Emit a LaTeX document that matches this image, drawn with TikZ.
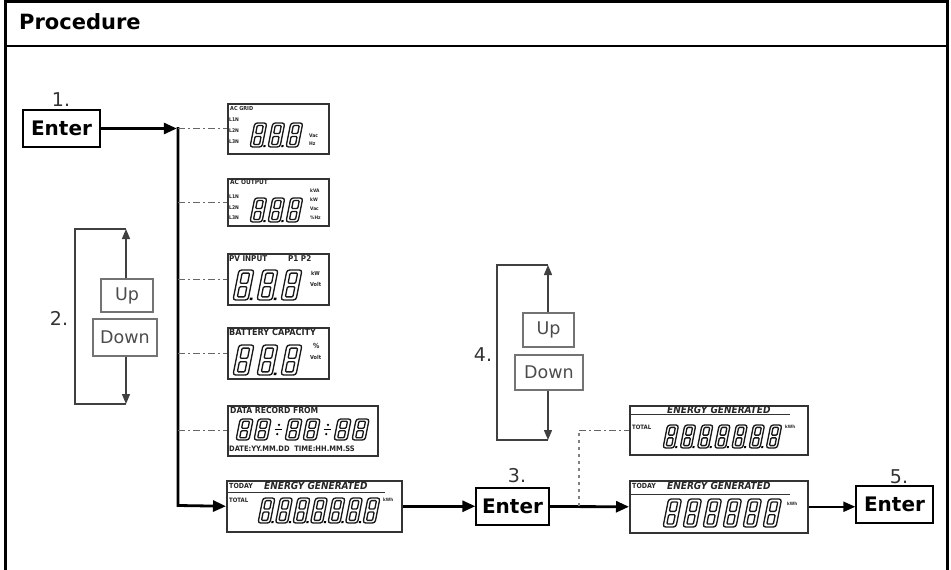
\documentclass[tikz,border=0pt]{standalone}
\usepackage{fontspec}
\setmainfont{DejaVu Sans}
\newfontfamily\lcd{DejaVu Sans Condensed}
\usetikzlibrary{arrows.meta}
\newcommand{\lf}[1]{\lcd\bfseries\fontsize{#1}{#1}\selectfont}
\newcommand{\lfi}[1]{\lcd\bfseries\itshape\fontsize{#1}{#1}\selectfont}
% #1 x, #2 y bottom, #3 width, #4 height, #5 dot
\newcommand{\sdig}[5]{%
  \begin{scope}[shift={(#1,#2)},x={(#3pt,0pt)},y={(0.1*#4pt,0.5*#4pt)}]
    \draw[seg, rounded corners=2.6pt] (0,0) -- (1,0) -- (1,1) -- (1,2) -- (0,2) -- (0,1) -- cycle;
    \draw[seg, rounded corners=1pt] (0.25,0.21) -- (0.75,0.21) -- (0.75,0.88) -- (0.25,0.88) -- cycle
      (0.25,1.12) -- (0.75,1.12) -- (0.75,1.79) -- (0.25,1.79) -- cycle;
    \ifnum#5=1 \fill (1.1,0) -- (1.28,0) -- (1.28,0.16) -- (1.1,0.16) -- cycle;\fi
  \end{scope}}
% divider for the clock: #1 x, #2 y bottom, #3 height
\newcommand{\sdiv}[3]{%
  \begin{scope}[shift={(#1,#2)},x={(1pt,0pt)},y={(0.2pt,1pt)}]
    \fill (0,0.28*#3) circle (1.3pt);
    \fill (0,0.72*#3) circle (1.3pt);
    \draw[line width=1pt] (-3.5,0.5*#3) -- (3.5,0.5*#3);
  \end{scope}}
\begin{document}
\begin{tikzpicture}[x=1pt,y=-1pt,
  seg/.style={draw=black!90, line width=1.35pt},
  panel/.style={draw=black!80, line width=1.5pt, inner sep=0pt, anchor=north west},
  enter/.style={draw=black, line width=1.3pt, font=\bfseries\fontsize{20}{20}\selectfont, minimum width=77pt, minimum height=37pt, inner sep=0pt},
  ud/.style={draw=black!55, line width=1.2pt, text=black!70, font=\fontsize{17.5}{17.5}\selectfont, inner sep=0pt},
  num/.style={font=\fontsize{19}{19}\selectfont, text=black!80, inner sep=0pt},
  main/.style={line width=2.8pt, -{Triangle[length=13pt,width=11pt]}},
  mainthin/.style={line width=2pt, -{Triangle[length=12pt,width=10pt]}},
  udline/.style={line width=1.4pt, draw=black!75},
  udarrow/.style={udline, -{Triangle[length=10pt,width=8pt]}},
  dd/.style={draw=black!60, line width=1.2pt, dash pattern=on 7pt off 3pt on 2pt off 3pt},
  vd/.style={draw=black!50, line width=1.2pt, dash pattern=on 3pt off 4pt},
  lb/.style={inner sep=0pt, anchor=west, text=black!85},
  sep/.style={line width=0.8pt, draw=black!80}
]
\useasboundingbox (0,0) rectangle (951,570);
% frame
\draw[line width=2.6pt] (5.3,572) -- (5.3,1.5) -- (947.7,1.5) -- (947.7,572);
\draw[line width=2.6pt] (5.3,46) -- (947.7,46);
\node[anchor=base west, inner sep=0pt, font=\bfseries\fontsize{21}{21}\selectfont] (title) at (19,29) {Procedure};

% Enter buttons
\node[enter] (e1) at (61.5,128.5) {Enter};
\node[enter, minimum width=73pt] (e3) at (512.5,506.5) {Enter};
\node[enter] (e5) at (894.5,504.5) {Enter};
\node[num] (n1) at (61,100) {1.};
\node[num] (n2) at (59,318) {2.};
\node[num] (n3) at (517,476) {3.};
\node[num] (n4) at (483,355) {4.};
\node[num] (n5) at (899,477) {5.};

% Up / Down group 2
\node[ud, minimum width=52pt, minimum height=33pt] (up2) at (127,295.5) {Up};
\node[ud, minimum width=64pt, minimum height=37pt] (dn2) at (125,337.5) {Down};
\coordinate (t2) at (126,229);
\coordinate (b2) at (126,404);
\coordinate (lt2) at (75,229);
\coordinate (lb2) at (75,404);
\draw[udline] (t2) -- (lt2) -- (lb2) -- (b2);
\draw[udarrow] (t2 |- up2.north) -- (t2);
\draw[udarrow] (b2 |- dn2.south) -- (b2);

% Up / Down group 4
\node[ud, minimum width=51pt, minimum height=34pt] (up4) at (548.5,330) {Up};
\node[ud, minimum width=68pt, minimum height=35pt] (dn4) at (549,372.5) {Down};
\coordinate (t4) at (548,265);
\coordinate (b4) at (548,440);
\coordinate (lt4) at (497,265);
\coordinate (lb4) at (497,440);
\draw[udline] (t4) -- (lt4) -- (lb4) -- (b4);
\draw[udarrow] (t4 |- up4.north) -- (t4);
\draw[udarrow] (b4 |- dn4.south) -- (b4);

% panels
\node[panel, minimum width=101pt, minimum height=50pt] (p1) at (227,103) {};
\node[panel, minimum width=101pt, minimum height=47pt] (p2) at (227,178) {};
\node[panel, minimum width=101pt, minimum height=51pt] (p3) at (227,253) {};
\node[panel, minimum width=101pt, minimum height=51pt] (p4) at (227,327) {};
\node[panel, minimum width=150pt, minimum height=50pt] (p5) at (227,405) {};
\node[panel, minimum width=175pt, minimum height=51pt] (p6) at (226,480) {};
\node[panel, minimum width=178pt, minimum height=49pt] (p7) at (629,405) {};
\node[panel, minimum width=178pt, minimum height=52pt] (p8) at (629,480) {};

% trunk and flow
\coordinate (tt) at (178,128.5);
\coordinate (tb) at (178,505.5);
\draw[main, shorten >=1.2pt] (e1.east) -- (tt);
\draw[main] (178,127.1) -- (tb) -- (p6.west);
\draw[dd] (p1.west -| tt) -- (p1.west);
\draw[dd] (p2.west -| tt) -- (p2.west);
\draw[dd] (p3.west -| tt) -- (p3.west);
\draw[dd] (p4.west -| tt) -- (p4.west);
\draw[dd] (p5.west -| tt) -- (p5.west);
\draw[main] (p6.east) -- (e3.west |- p6.east);
\draw[main] (e3.east) -- (p8.west);
\coordinate (j) at (579,506);
\draw[vd] (j) -- (j |- p7.west);
\draw[dd] (j |- p7.west) -- (p7.west);
\draw[mainthin] (p8.east) -- (e5.west |- p8.east);

% panel 1: AC GRID
\node[lb, font=\lf{5.5}] (p1t) at (230,108) {AC GRID};
\node[lb, font=\lf{5}] (p1a) at (229,120) {L1N};
\node[lb, font=\lf{5}] (p1b) at (229,131) {L2N};
\node[lb, font=\lf{5}] (p1c) at (229,142) {L3N};
\sdig{250}{147}{12}{24}{1}
\sdig{268}{147}{12}{24}{1}
\sdig{286}{147}{12}{24}{0}
\node[lb, font=\lf{5}] (p1u) at (309,136) {Vac};
\node[lb, font=\lf{5}] (p1v) at (309,144) {Hz};

% panel 2: AC OUTPUT
\node[lb, font=\lf{6.5}] (p2t) at (230,182) {AC OUTPUT};
\node[lb, font=\lf{5}] (p2a) at (229,197) {L1N};
\node[lb, font=\lf{5}] (p2b) at (229,208) {L2N};
\node[lb, font=\lf{5}] (p2c) at (229,218) {L3N};
\sdig{250}{222}{12}{24}{1}
\sdig{268}{222}{12}{24}{1}
\sdig{286}{222}{12}{24}{0}
\node[lb, font=\lf{4.8}] (p2u) at (310,191) {kVA};
\node[lb, font=\lf{4.8}] (p2v) at (310,200) {kW};
\node[lb, font=\lf{4.8}] (p2w) at (310,209) {Vac};
\node[lb, font=\lf{4.8}] (p2x) at (310,218) {\%Hz};

% panel 3: PV INPUT
\node[lb, font=\lf{8}] (p3t) at (229,258.5) {PV INPUT};
\node[lb, font=\lf{8}] (p3s) at (288,258.5) {P1 P2};
\sdig{233}{300}{15}{30}{1}
\sdig{257}{300}{15}{30}{1}
\sdig{281}{300}{15}{30}{0}
\node[lb, font=\lf{5.5}] (p3u) at (311,273) {kW};
\node[lb, font=\lf{5.5}] (p3v) at (310,284) {Volt};

% panel 4: BATTERY CAPACITY
\node[lb, font=\lf{9}] (p4t) at (229,332.5) {BATTERY CAPACITY};
\sdig{233}{375}{15}{30}{0}
\sdig{257}{375}{15}{30}{1}
\sdig{281}{375}{15}{30}{0}
\node[lb, font=\lf{7}] (p4u) at (313,346) {\%};
\node[lb, font=\lf{5.5}] (p4v) at (310,357) {Volt};

% panel 5: DATA RECORD FROM
\node[lb, font=\lf{8.5}] (p5t) at (230,410) {DATA RECORD FROM};
\sdig{236}{440}{13}{21}{0}
\sdig{254}{440}{13}{21}{0}
\sdiv{276}{440}{21}
\sdig{285}{440}{13}{21}{0}
\sdig{303}{440}{13}{21}{0}
\sdiv{325}{440}{21}
\sdig{334}{440}{13}{21}{0}
\sdig{352}{440}{13}{21}{0}
\node[lb, font=\lf{7.5}] (p5b) at (229,449) {DATE:YY.MM.DD\ \ TIME:HH.MM.SS};

% panel 6: TODAY / TOTAL energy
\node[lb, font=\lf{7}] (p6a) at (229,485.5) {TODAY};
\node[lb, font=\lfi{10}] (p6t) at (264,485.5) {ENERGY GENERATED};
\draw[sep] (p6.west |- 0,492.5) -- (385,492.5);
\node[lb, font=\lf{6}] (p6b) at (229,500) {TOTAL};
\foreach \i in {0,...,5} {\sdig{258+\i*17.5}{523}{12}{25}{1}}
\sdig{258+6*17.5}{523}{12}{25}{0}
\node[lb, font=\lf{4.5}] (p6u) at (383,500) {kWh};

% panel 7: TOTAL energy
\node[lb, font=\lfi{10}] (p7t) at (667,409.5) {ENERGY GENERATED};
\draw[sep] (p7.west |- 0,414.5) -- (790,414.5);
\node[lb, font=\lf{6}] (p7b) at (632,427) {TOTAL};
\foreach \i in {0,...,5} {\sdig{663+\i*17.2}{448}{11}{23}{1}}
\sdig{663+6*17.2}{448}{11}{23}{0}
\node[lb, font=\lf{4.5}] (p7u) at (785,427) {kWh};

% panel 8: TODAY energy
\node[lb, font=\lf{7}] (p8a) at (632,485.5) {TODAY};
\node[lb, font=\lfi{10}] (p8t) at (667,485.5) {ENERGY GENERATED};
\draw[sep] (p8.west |- 0,494.5) -- (790,494.5);
\foreach \i in {0,...,5} {\sdig{663+\i*20}{527}{13}{28}{0}}
\node[lb, font=\lf{4.5}] (p8u) at (787,504) {kWh};
\end{tikzpicture}
\end{document}
